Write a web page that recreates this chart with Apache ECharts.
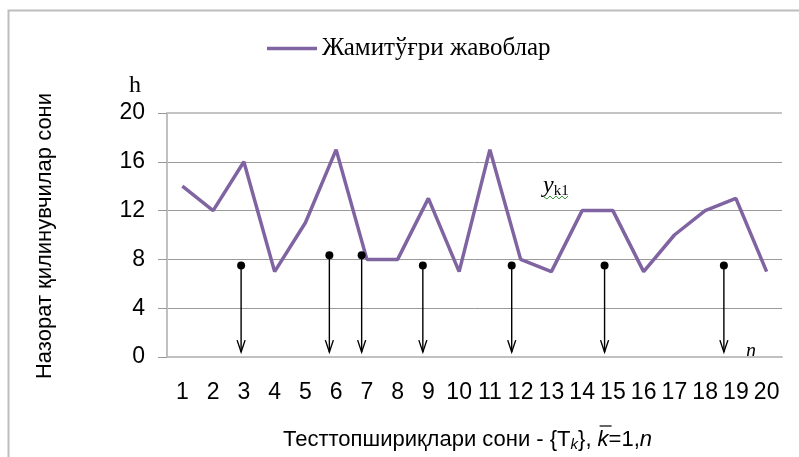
<!DOCTYPE html>
<html>
<head>
<meta charset="utf-8">
<script src="https://cdn.jsdelivr.net/npm/echarts@6/dist/echarts.min.js"></script>
<style>html,body{margin:0;padding:0;background:#fff}#c{width:799px;height:457px}</style>
</head>
<body>
<div id="c"></div>
<script>
const categories = ['1','2','3','4','5','6','7','8','9','10','11','12','13','14','15','16','17','18','19','20'];
const correctAnswers = [14,12,16,7,11,17,8,8,13,7,17,8,7,12,12,7,10,12,13,7];
const yTicks = [0,4,8,12,16,20];
const arrowX = [2.91,5.78,6.83,8.82,11.71,14.73,18.61];
const arrowTop = [7.5,8.35,8.35,7.5,7.5,7.5,7.5];
const arrowBottom = 0.4;
const seriesName = 'Жамитўғри жавоблар';
const xTitlePart1 = 'Тесттопшириқлари сони - {T';

const chart = echarts.init(document.getElementById('c'));
const sans = 'Liberation Sans, Arial, sans-serif';
const serif = 'Liberation Serif, Times New Roman, serif';

// measure text to place the overline over the italic k
const mctx = document.createElement('canvas').getContext('2d');
function tw(t, f) { mctx.font = f; return mctx.measureText(t).width; }
const tx0 = 283, tfs = 22;
const kStart = tx0 + tw(xTitlePart1, tfs + 'px ' + sans) + tw('k', 'italic 15px ' + sans) + tw('}, ', tfs + 'px ' + sans);
const kW = tw('k', 'italic ' + tfs + 'px ' + sans);

chart.setOption({
  animation: false,
  backgroundColor: '#fff',
  grid: {left: 167, right: 17, top: 113, bottom: 100, containLabel: false},
  legend: {
    left: 262, top: 31,
    itemWidth: 50, itemHeight: 14, itemGap: 4,
    textStyle: {fontFamily: serif, fontSize: 25, color: '#000'},
    data: [{name: seriesName, icon: 'path://M0,0 L50,0 L50,3.5 L0,3.5 Z'}]
  },
  xAxis: [{
    type: 'category', data: categories, boundaryGap: true,
    axisLine: {show: true, lineStyle: {color: '#c0c0c0', width: 2}},
    axisTick: {show: false},
    axisLabel: {fontFamily: sans, fontSize: 23, color: '#000', margin: 24, interval: 0},
    splitLine: {show: false}
  }, {
    type: 'value', min: 0.5, max: 20.5, show: false
  }],
  yAxis: {
    type: 'value', min: 0, max: 20, interval: 4,
    axisLine: {show: true, lineStyle: {color: '#c0c0c0', width: 2}},
    axisTick: {show: true, length: 9, lineStyle: {color: '#999'}},
    axisLabel: {fontFamily: sans, fontSize: 23, color: '#000', margin: 22,
      formatter: v => yTicks.includes(v) ? String(v) : ''},
    splitLine: {show: true, lineStyle: {color: '#9a9a9a', width: 1}}
  },
  series: [{
    name: seriesName, type: 'line', data: correctAnswers,
    symbol: 'none', lineStyle: {color: '#8064A2', width: 3.5}, itemStyle: {color: '#8064A2'},
    z: 3,
    markLine: {silent: true, symbol: 'none', label: {show: false},
      lineStyle: {color: '#c4c4c4', width: 2, type: 'solid'},
      data: [{yAxis: yTicks[yTicks.length - 1]}]}
  }, {
    type: 'custom', xAxisIndex: 1, yAxisIndex: 0,
    data: arrowX.map((x, i) => [x, arrowTop[i]]),
    renderItem: function (params, api) {
      const x = api.value(0), t = api.value(1);
      const p1 = api.coord([x, t]);
      const p2 = api.coord([x, arrowBottom]);
      const st = {stroke: '#000', lineWidth: 1.4, fill: null};
      return {type: 'group', children: [
        {type: 'line', shape: {x1: p1[0], y1: p1[1], x2: p2[0], y2: p2[1]}, style: st},
        {type: 'polyline', shape: {points: [[p2[0]-4, p2[1]-12], [p2[0], p2[1]], [p2[0]+4, p2[1]-12]]}, style: st},
        {type: 'circle', shape: {cx: p1[0], cy: p1[1], r: 4}, style: {fill: '#000'}}
      ]};
    },
    z: 4
  }],
  graphic: [
    {type: 'rect', shape: {x: 8.5, y: 10.5, width: 900, height: 900}, style: {fill: null, stroke: '#bdbdbd', lineWidth: 2}, silent: true},
    {type: 'text', x: 45, y: 236, rotation: Math.PI/2,
      style: {text: 'Назорат қилинувчилар сони', fontFamily: sans, fontSize: 22, fill: '#000', align: 'center', verticalAlign: 'middle'}},
    {type: 'text', x: tx0, y: 440,
      style: {text: '{a|' + xTitlePart1 + '}{s|k}}, {i|k}{a|=1,}{i|n}',
        fontFamily: sans, fontSize: tfs, fill: '#000',
        rich: {
          a: {fontFamily: sans, fontSize: tfs, fill: '#000'},
          s: {fontFamily: sans, fontSize: 15, fontStyle: 'italic', fill: '#000', padding: [10,0,0,0]},
          i: {fontFamily: sans, fontSize: tfs, fontStyle: 'italic', fill: '#000'}
        },
        verticalAlign: 'middle', align: 'left'}},
    {type: 'line', shape: {x1: kStart + 2, y1: 426, x2: kStart + kW + 3, y2: 426}, style: {stroke: '#000', lineWidth: 1.2}},
    {type: 'text', x: 135, y: 86,
      style: {text: 'h', fontFamily: serif, fontSize: 24, fill: '#000', align: 'center', verticalAlign: 'middle'}},
    {type: 'text', x: 751, y: 352,
      style: {text: 'n', fontFamily: serif, fontSize: 20, fontStyle: 'italic', fill: '#000', align: 'center', verticalAlign: 'middle'}},
    {type: 'text', x: 543, y: 186,
      style: {text: '{y|y}{s|k1}', rich: {
        y: {fontFamily: serif, fontSize: 24, fontStyle: 'italic', fill: '#000'},
        s: {fontFamily: serif, fontSize: 15, fill: '#000', padding: [10,0,0,0]}
      }, verticalAlign: 'middle'}},
    {type: 'polyline', shape: {points: [[544,197],[547,199],[550,196],[553,199],[556,196],[559,199],[562,196],[565,199],[568,196]]},
      style: {stroke: '#3c9a3c', lineWidth: 1, fill: null}}
  ]
});
</script>
</body>
</html>
